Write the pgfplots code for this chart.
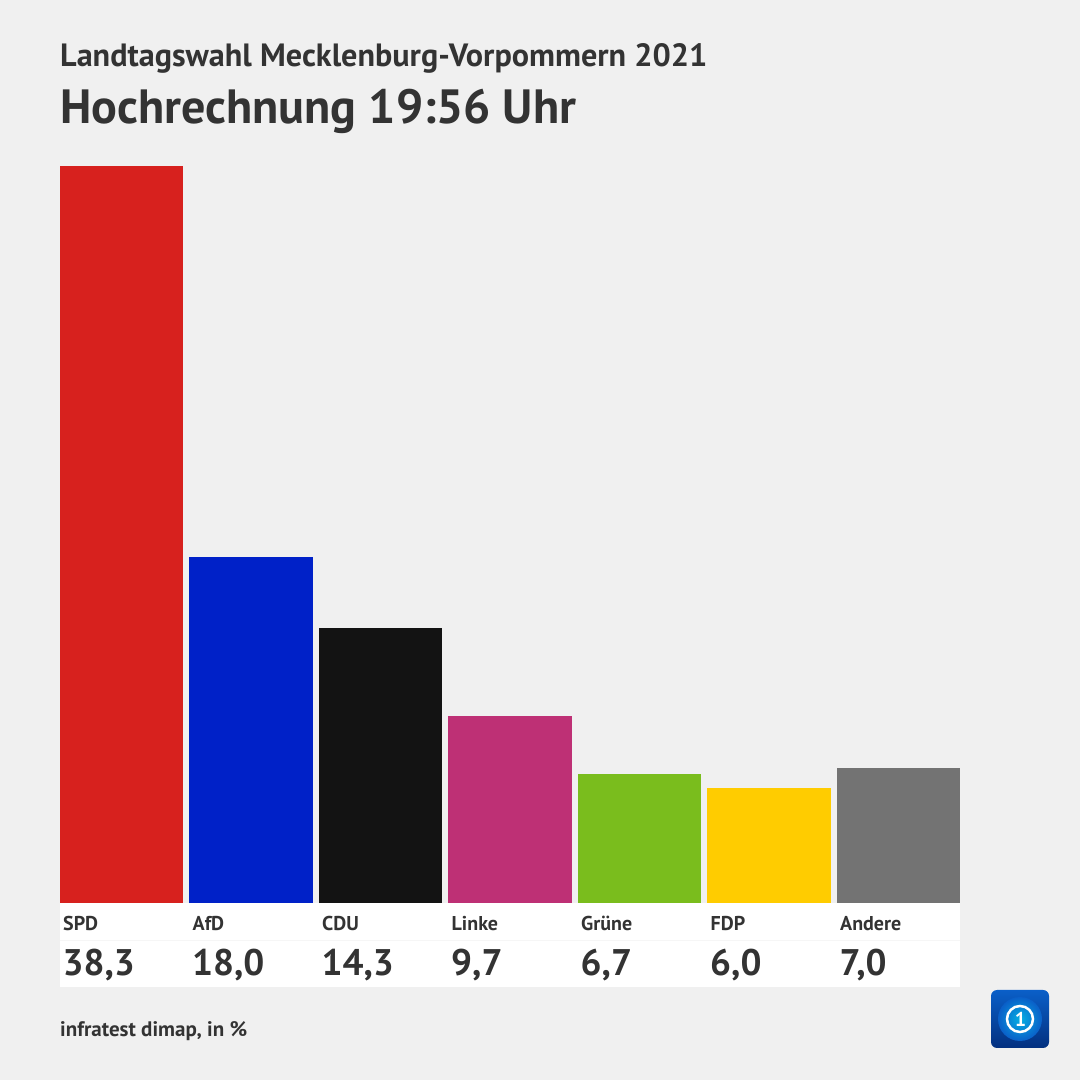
\documentclass[border=0pt]{standalone}
\usepackage{pgfplots}
\pgfplotsset{compat=1.18}
\usepackage{fontspec}
\setmainfont{PT Sans}
\definecolor{bg}{HTML}{F0F0F0}
\definecolor{txt}{HTML}{333333}
\definecolor{cSPD}{HTML}{D7211E}
\definecolor{cAfD}{HTML}{0021C8}
\definecolor{cCDU}{HTML}{131313}
\definecolor{cLinke}{HTML}{BE3075}
\definecolor{cGruene}{HTML}{7ABD1D}
\definecolor{cFDP}{HTML}{FFCC00}
\definecolor{cAndere}{HTML}{737373}
\definecolor{logoA}{HTML}{0A5FC8}
\definecolor{logoB}{HTML}{03307F}
\begin{document}
\begin{tikzpicture}[x=1pt,y=1pt]
\useasboundingbox (0,0) rectangle (1080,1080);
\fill[bg] (0,0) rectangle (1080,1080);
% titles
\node[anchor=base west,inner sep=0,text=txt,font=\fontsize{32.2}{32}\selectfont\bfseries] at (60,1080-66.7) {Landtagswahl Mecklenburg-Vorpommern 2021};
\node[anchor=base west,inner sep=0,text=txt,font=\fontsize{48.1}{48}\selectfont\bfseries] at (60,1080-124) {Hochrechnung 19:56 Uhr};
% white label panel
\fill[white] (60,1080-987) rectangle (960,1080-903);
\draw[bg!60!white,line width=0.6pt] (60,1080-940) -- (960,1080-940);
\begin{axis}[
  at={(121.5pt,177pt)}, anchor=origin,
  x=129.5pt, y=19.24pt,
  xmin=-0.475, xmax=6.475, ymin=0, ymax=38.3,
  hide axis, clip=false,
  ybar, bar width=123.5pt, bar shift=0pt,
]
\addplot[draw=none,fill=cSPD] coordinates {(0,38.3)};
\addplot[draw=none,fill=cAfD] coordinates {(1,18.0)};
\addplot[draw=none,fill=cCDU] coordinates {(2,14.3)};
\addplot[draw=none,fill=cLinke] coordinates {(3,9.7)};
\addplot[draw=none,fill=cGruene] coordinates {(4,6.7)};
\addplot[draw=none,fill=cFDP] coordinates {(5,6.0)};
\addplot[draw=none,fill=cAndere] coordinates {(6,7.0)};
\foreach \i/\n/\v in {0/SPD/{38,3},1/AfD/{18,0},2/CDU/{14,3},3/Linke/{9,7},4/Grüne/{6,7},5/FDP/{6,0},6/Andere/{7,0}} {
  \edef\tmp{\noexpand\node[anchor=base west,inner sep=0,text=txt,font=\noexpand\fontsize{20}{20}\noexpand\selectfont\noexpand\bfseries,xshift=-58.5pt,yshift=-27pt] at (axis cs:\i,0) {\n};}
  \tmp
  \edef\tmp{\noexpand\node[anchor=base west,inner sep=0,text=txt,font=\noexpand\fontsize{37}{37}\noexpand\selectfont\noexpand\bfseries,xshift=-59pt,yshift=-72pt] at (axis cs:\i,0) {\v};}
  \tmp
}
\end{axis}
% footer
\node[anchor=base west,inner sep=0,text=txt,font=\fontsize{21}{21}\selectfont\bfseries] at (60,1080-1037) {infratest dimap, in \%};
% logo
\shade[top color=logoA,bottom color=logoB,rounded corners=6pt] (991,1080-1048) rectangle (1049,1080-990);
\shade[inner color=cyan!50!logoA,outer color=logoA] (1020,1080-1019) circle (22);
\draw[white,line width=2.5pt] (1020,1080-1019) circle (13);
\node[text=white,font=\bfseries\fontsize{20}{20}\selectfont] at (1020.5,1080-1019) {1};
\end{tikzpicture}
\end{document}
